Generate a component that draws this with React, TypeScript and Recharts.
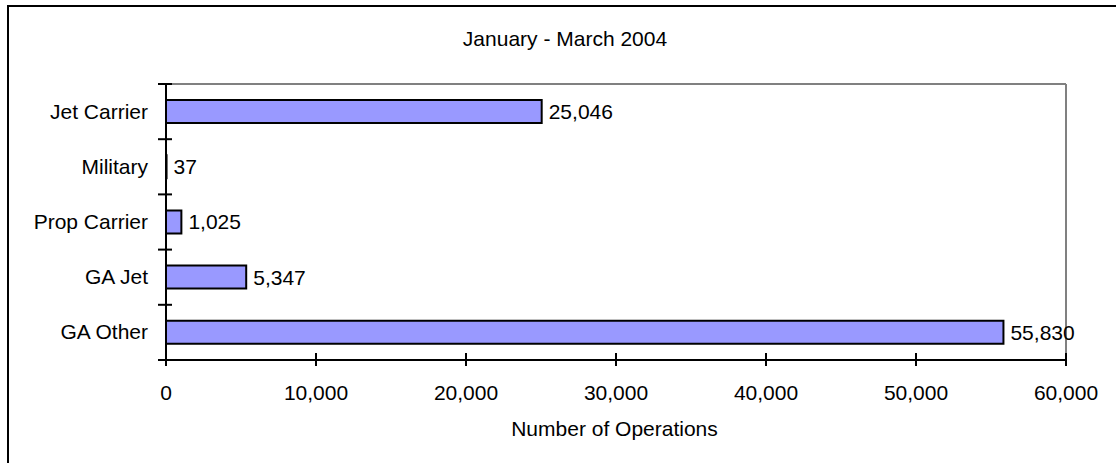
import React from 'react'
import { BarChart, Bar, XAxis, YAxis, LabelList } from 'recharts'

const categories = ['Jet Carrier', 'Military', 'Prop Carrier', 'GA Jet', 'GA Other']
const operations = [25046, 37, 1025, 5347, 55830]
const xTicks = [0, 10000, 20000, 30000, 40000, 50000, 60000]

const data = categories.map((name, i) => ({ name, ops: operations[i] }))

const W = 1116
const H = 463
const FONT = '"Liberation Sans", Arial, Helvetica, sans-serif'
const fmt = (v: number) => v.toLocaleString('en-US')

// y axis: label at band centre, tick marks on the band edges
const CategoryTick = (props: any) => {
  const { x, payload, index, visibleTicksCount } = props
  const y = payload.coordinate
  const half = payload.offset ?? 27.6
  const last = index === visibleTicksCount - 1
  return (
    <g>
      <line x1={x - 8} x2={x + 6} y1={y - half} y2={y - half} stroke="#000" strokeWidth={2} />
      {last && <line x1={x - 8} x2={x + 6} y1={y + half} y2={y + half} stroke="#000" strokeWidth={2} />}
      <text x={x - 18} y={y + 7} textAnchor="end" fontSize={21} fontFamily={FONT} fill="#000">
        {payload.value}
      </text>
    </g>
  )
}

const ValueTick = (props: any) => {
  const { x, y, payload } = props
  return (
    <g>
      <line x1={x} x2={x} y1={y - 7} y2={y + 6} stroke="#000" strokeWidth={2} />
      <text x={x} y={y + 40} textAnchor="middle" fontSize={21} fontFamily={FONT} fill="#000">
        {fmt(payload.value)}
      </text>
    </g>
  )
}

export default function App() {
  return (
    <div style={{ position: 'absolute', left: 0, top: 0, width: W, height: H, overflow: 'hidden', background: '#fff' }}>
      <svg width={W} height={H} style={{ position: 'absolute', left: 0, top: 0 }}>
        <line x1={7} x2={W} y1={6} y2={6} stroke="#000" strokeWidth={2} />
        <line x1={8} x2={8} y1={5} y2={H} stroke="#000" strokeWidth={2} />
        <text x={565} y={45.5} textAnchor="middle" fontSize={21} fontFamily={FONT} fill="#000">
          January - March 2004
        </text>
        <text x={614.5} y={435.5} textAnchor="middle" fontSize={21} fontFamily={FONT} fill="#000">
          Number of Operations
        </text>
      </svg>
      <div style={{ position: 'absolute', left: 0, top: 0 }}>
        <BarChart
          width={W}
          height={H}
          data={data}
          layout="vertical"
          margin={{ top: 83, right: 49, bottom: 63, left: 0 }}
        >
          {/* grey frame on the top and right of the plot area */}
          <XAxis
            xAxisId="top"
            orientation="top"
            type="number"
            domain={[0, 60000]}
            ticks={xTicks}
            height={1}
            tick={false}
            tickLine={false}
            axisLine={{ stroke: '#808080', strokeWidth: 2 }}
          />
          <YAxis
            yAxisId="right"
            orientation="right"
            type="category"
            dataKey="name"
            width={1}
            tick={false}
            tickLine={false}
            axisLine={{ stroke: '#808080', strokeWidth: 2 }}
          />
          <XAxis
            type="number"
            domain={[0, 60000]}
            ticks={xTicks}
            interval={0}
            height={40}
            tickSize={0}
            tickMargin={0}
            tickLine={false}
            tick={<ValueTick />}
            axisLine={{ stroke: '#000', strokeWidth: 2 }}
          />
          <YAxis
            type="category"
            dataKey="name"
            width={166}
            interval={0}
            tickSize={0}
            tickMargin={0}
            tickLine={false}
            tick={<CategoryTick />}
            axisLine={{ stroke: '#000', strokeWidth: 2 }}
          />
          <Bar dataKey="ops" fill="#9999FF" stroke="#000" strokeWidth={2} barSize={23} isAnimationActive={false}>
            <LabelList
              dataKey="ops"
              position="right"
              offset={7}
              formatter={(v: any) => fmt(Number(v))}
              style={{ fontSize: 21, fontFamily: FONT, fill: '#000' }}
            />
          </Bar>
        </BarChart>
      </div>
    </div>
  )
}
